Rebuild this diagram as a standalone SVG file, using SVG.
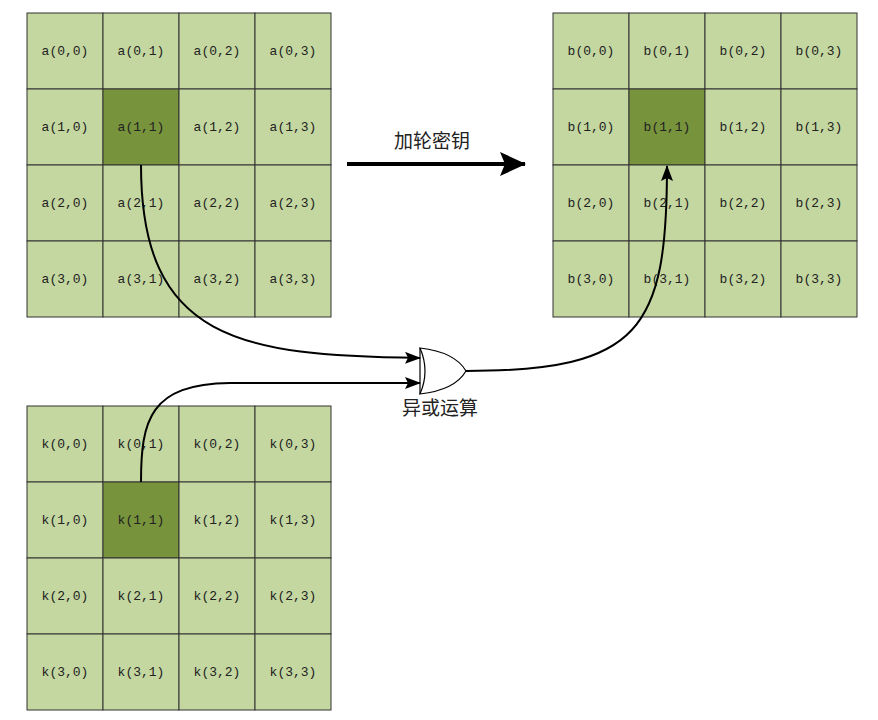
<svg xmlns="http://www.w3.org/2000/svg" width="878" height="720" viewBox="0 0 878 720">
<style>
.c{fill:#c4d7a0;stroke:#333;stroke-width:1}
.d{fill:#77933c;stroke:#333;stroke-width:1}
.t{font-family:"Liberation Mono","Noto Sans CJK SC",monospace;font-size:13px;fill:#222;text-anchor:middle;dominant-baseline:central}
.l{font-family:"Noto Sans CJK SC",sans-serif;font-size:19px;fill:#222;text-anchor:middle}
.w{fill:none;stroke:#000;stroke-width:2}
</style>
<defs>
<marker id="ah" markerWidth="16" markerHeight="12" refX="15" refY="6" orient="auto" markerUnits="userSpaceOnUse" viewBox="0 0 16 12"><path d="M0,0 L16,6 L0,12 L3,6 z" fill="#000"/></marker>
<marker id="big" markerWidth="26" markerHeight="24" refX="25" refY="12" orient="auto" markerUnits="userSpaceOnUse" viewBox="0 0 26 24"><path d="M0,0 L26,12 L0,24 L5,12 z" fill="#000"/></marker>
</defs>
<rect width="878" height="720" fill="#fff"/>
<g id="gridA">
<rect class="c" x="27" y="13" width="76" height="76"/><rect class="c" x="103" y="13" width="76" height="76"/><rect class="c" x="179" y="13" width="76" height="76"/><rect class="c" x="255" y="13" width="76" height="76"/>
<rect class="c" x="27" y="89" width="76" height="76"/><rect class="d" x="103" y="89" width="76" height="76"/><rect class="c" x="179" y="89" width="76" height="76"/><rect class="c" x="255" y="89" width="76" height="76"/>
<rect class="c" x="27" y="165" width="76" height="76"/><rect class="c" x="103" y="165" width="76" height="76"/><rect class="c" x="179" y="165" width="76" height="76"/><rect class="c" x="255" y="165" width="76" height="76"/>
<rect class="c" x="27" y="241" width="76" height="76"/><rect class="c" x="103" y="241" width="76" height="76"/><rect class="c" x="179" y="241" width="76" height="76"/><rect class="c" x="255" y="241" width="76" height="76"/>
<text class="t" x="65" y="51">a(0,0)</text><text class="t" x="141" y="51">a(0,1)</text><text class="t" x="217" y="51">a(0,2)</text><text class="t" x="293" y="51">a(0,3)</text>
<text class="t" x="65" y="127">a(1,0)</text><text class="t" x="141" y="127">a(1,1)</text><text class="t" x="217" y="127">a(1,2)</text><text class="t" x="293" y="127">a(1,3)</text>
<text class="t" x="65" y="203">a(2,0)</text><text class="t" x="141" y="203">a(2,1)</text><text class="t" x="217" y="203">a(2,2)</text><text class="t" x="293" y="203">a(2,3)</text>
<text class="t" x="65" y="279">a(3,0)</text><text class="t" x="141" y="279">a(3,1)</text><text class="t" x="217" y="279">a(3,2)</text><text class="t" x="293" y="279">a(3,3)</text>
</g>
<g id="gridB">
<rect class="c" x="553" y="13" width="76" height="76"/><rect class="c" x="629" y="13" width="76" height="76"/><rect class="c" x="705" y="13" width="76" height="76"/><rect class="c" x="781" y="13" width="76" height="76"/>
<rect class="c" x="553" y="89" width="76" height="76"/><rect class="d" x="629" y="89" width="76" height="76"/><rect class="c" x="705" y="89" width="76" height="76"/><rect class="c" x="781" y="89" width="76" height="76"/>
<rect class="c" x="553" y="165" width="76" height="76"/><rect class="c" x="629" y="165" width="76" height="76"/><rect class="c" x="705" y="165" width="76" height="76"/><rect class="c" x="781" y="165" width="76" height="76"/>
<rect class="c" x="553" y="241" width="76" height="76"/><rect class="c" x="629" y="241" width="76" height="76"/><rect class="c" x="705" y="241" width="76" height="76"/><rect class="c" x="781" y="241" width="76" height="76"/>
<text class="t" x="591" y="51">b(0,0)</text><text class="t" x="667" y="51">b(0,1)</text><text class="t" x="743" y="51">b(0,2)</text><text class="t" x="819" y="51">b(0,3)</text>
<text class="t" x="591" y="127">b(1,0)</text><text class="t" x="667" y="127">b(1,1)</text><text class="t" x="743" y="127">b(1,2)</text><text class="t" x="819" y="127">b(1,3)</text>
<text class="t" x="591" y="203">b(2,0)</text><text class="t" x="667" y="203">b(2,1)</text><text class="t" x="743" y="203">b(2,2)</text><text class="t" x="819" y="203">b(2,3)</text>
<text class="t" x="591" y="279">b(3,0)</text><text class="t" x="667" y="279">b(3,1)</text><text class="t" x="743" y="279">b(3,2)</text><text class="t" x="819" y="279">b(3,3)</text>
</g>
<g id="gridK">
<rect class="c" x="27" y="406" width="76" height="76"/><rect class="c" x="103" y="406" width="76" height="76"/><rect class="c" x="179" y="406" width="76" height="76"/><rect class="c" x="255" y="406" width="76" height="76"/>
<rect class="c" x="27" y="482" width="76" height="76"/><rect class="d" x="103" y="482" width="76" height="76"/><rect class="c" x="179" y="482" width="76" height="76"/><rect class="c" x="255" y="482" width="76" height="76"/>
<rect class="c" x="27" y="558" width="76" height="76"/><rect class="c" x="103" y="558" width="76" height="76"/><rect class="c" x="179" y="558" width="76" height="76"/><rect class="c" x="255" y="558" width="76" height="76"/>
<rect class="c" x="27" y="634" width="76" height="76"/><rect class="c" x="103" y="634" width="76" height="76"/><rect class="c" x="179" y="634" width="76" height="76"/><rect class="c" x="255" y="634" width="76" height="76"/>
<text class="t" x="65" y="444">k(0,0)</text><text class="t" x="141" y="444">k(0,1)</text><text class="t" x="217" y="444">k(0,2)</text><text class="t" x="293" y="444">k(0,3)</text>
<text class="t" x="65" y="520">k(1,0)</text><text class="t" x="141" y="520">k(1,1)</text><text class="t" x="217" y="520">k(1,2)</text><text class="t" x="293" y="520">k(1,3)</text>
<text class="t" x="65" y="596">k(2,0)</text><text class="t" x="141" y="596">k(2,1)</text><text class="t" x="217" y="596">k(2,2)</text><text class="t" x="293" y="596">k(2,3)</text>
<text class="t" x="65" y="672">k(3,0)</text><text class="t" x="141" y="672">k(3,1)</text><text class="t" x="217" y="672">k(3,2)</text><text class="t" x="293" y="672">k(3,3)</text>
</g>
<g id="xor">
<path d="M420,348 Q430,371 420,394 Q455,390 466,371 Q455,352 420,348 z" fill="#fff" stroke="#000" stroke-width="1.2"/>
<line x1="420" y1="348" x2="420" y2="394" stroke="#000" stroke-width="1.2"/>
<text class="l" x="440" y="415">异或运算</text>
</g>
<g id="bigArrow">
<line x1="347" y1="164" x2="525" y2="164" stroke="#000" stroke-width="4" marker-end="url(#big)"/>
<text class="l" x="432" y="148">加轮密钥</text>
</g>
<g id="connectors">
<path class="w" d="M141,165 C141,340 240,356 420,358" marker-end="url(#ah)"/>
<path class="w" d="M141,482 C141,420 150,384 230,383 L420,383" marker-end="url(#ah)"/>
<path class="w" d="M466,371 C640,371 667,330 667,166" marker-end="url(#ah)"/>
</g>
</svg>
